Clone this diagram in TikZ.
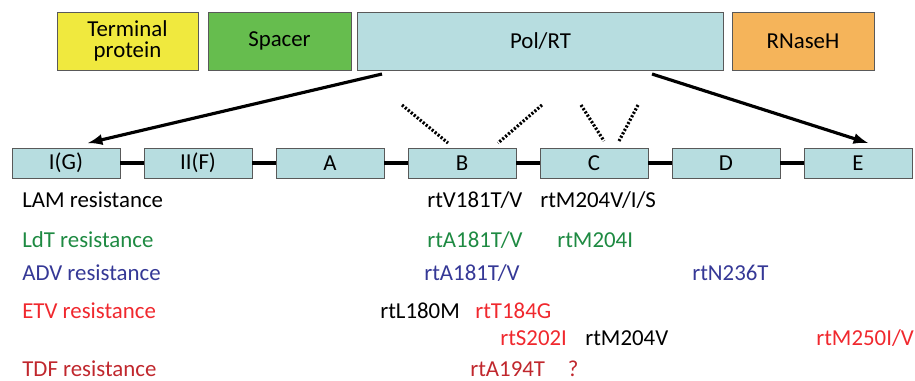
\documentclass[tikz,border=0pt]{standalone}
\usepackage{fontspec}
\setmainfont{Carlito}
\definecolor{tpyellow}{HTML}{F0E93E}
\definecolor{spgreen}{HTML}{66BD4E}
\definecolor{polblue}{HTML}{B7DDE0}
\definecolor{rnorange}{HTML}{F5B45A}
\definecolor{ldtgreen}{HTML}{1E8A42}
\definecolor{advblue}{HTML}{353896}
\definecolor{etvred}{HTML}{F0282E}
\definecolor{tdfred}{HTML}{C0272D}
\tikzset{
  gene/.style={draw=gray!70!black, minimum height=1.16cm, inner sep=0pt, align=center,
    font=\fontsize{13}{14}\selectfont},
  rtbox/.style={draw=gray!70!black, fill=polblue, minimum width=2.16cm, minimum height=0.6cm,
    inner sep=0pt, font=\fontsize{13}{14}\selectfont},
  link/.style={line width=2.2pt},
  expand/.style={line width=1.8pt, -latex},
  motif/.style={line width=1.8pt, dash pattern=on 1.2pt off 1pt},
  drug/.style={anchor=west, inner sep=0pt, font=\fontsize{13}{14}\selectfont},
}
\begin{document}
\begin{tikzpicture}[x=0.02cm, y=-0.02cm]
    \useasboundingbox (0,0) rectangle (915,380);
    % polymerase gene
    \node[gene, fill=tpyellow, minimum width=2.82cm] (TP) at (127.5,41) {Terminal\\[-2pt]protein};
    \node[gene, fill=spgreen, minimum width=2.86cm] (Spacer) at (279.5,41) {Spacer};
    \node[gene, fill=polblue, minimum width=7.32cm] (PolRT) at (540.5,41) {Pol/RT};
    \node[gene, fill=rnorange, minimum width=2.84cm] (RNaseH) at (803,41) {RNaseH};
    % conserved domains of Pol/RT
    \foreach \name/\lbl [count=\i from 0] in {dI/I(G), dII/II(F), dA/A, dB/B, dC/C, dD/D, dE/E}
      \node[rtbox] (\name) at (66+132*\i,163) {\lbl};
    \foreach \a/\b in {dI/dII, dII/dA, dA/dB, dB/dC, dC/dD, dD/dE}
      \draw[link] (\a) -- (\b);
    \coordinate (PolL) at (382,74);
    \coordinate (PolR) at (652,74);
    \coordinate (TipL) at (88,143);
    \coordinate (TipR) at (868,143);
    \draw[expand] (PolL) -- (TipL);% zoom in, left
    \draw[expand] (PolR) -- (TipR);% zoom in, right
    % motifs in B and C
    \coordinate (B1) at (402,105);
    \coordinate (B2) at (448,143);
    \coordinate (B3) at (542,105);
    \coordinate (B4) at (498,143);
    \coordinate (C1) at (581,105);
    \coordinate (C2) at (604,141);
    \coordinate (C3) at (638,105);
    \coordinate (C4) at (619,141);
    \draw[motif] (B1) -- (B2);
    \draw[motif] (B3) -- (B4);
    \draw[motif] (C1) -- (C2);
    \draw[motif] (C3) -- (C4);
    % resistance mutations
    \node[drug] (LAM) at (22,200) {LAM resistance};
    \node[drug] (LAMb) at (427,200) {rtV181T/V};
    \node[drug] (LAMc) at (540,200) {rtM204V/I/S};
    \node[drug, ldtgreen] (LdT) at (22,240) {LdT resistance};
    \node[drug, ldtgreen] (LdTb) at (427,240) {rtA181T/V};
    \node[drug, ldtgreen] (LdTc) at (557,240) {rtM204I};
    \node[drug, advblue] (ADV) at (22,273) {ADV resistance};
    \node[drug, advblue] (ADVb) at (424,273) {rtA181T/V};
    \node[drug, advblue] (ADVd) at (692,273) {rtN236T};
    \node[drug, etvred] (ETV) at (22,311) {ETV resistance};
    \node[drug] (ETVa) at (380,311) {rtL180M};
    \node[drug, etvred] (ETVb) at (475,311) {rtT184G};
    \node[drug, etvred] (ETVc) at (500,338) {rtS202I};
    \node[drug] (ETVd) at (585,338) {rtM204V};
    \node[drug, etvred] (ETVe) at (816,338) {rtM250I/V};
    \node[drug, tdfred] (TDF) at (22,369) {TDF resistance};
    \node[drug, tdfred] (TDFb) at (470,369) {rtA194T\quad ?};
\end{tikzpicture}
\end{document}
